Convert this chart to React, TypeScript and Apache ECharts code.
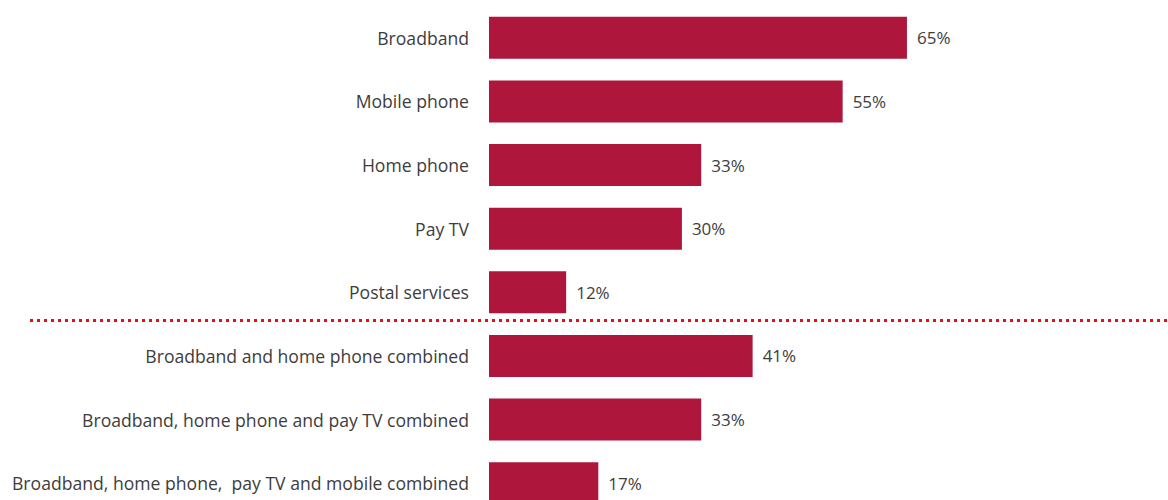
import React, { useEffect, useRef } from "react";
import * as echarts from "echarts";

const categories = [
  "Broadband",
  "Mobile phone",
  "Home phone",
  "Pay TV",
  "Postal services",
  "Broadband and home phone combined",
  "Broadband, home phone and pay TV combined",
  "Broadband, home phone,  pay TV and mobile combined",
];
const values = [65, 55, 33, 30, 12, 41, 33, 17];

export default function App() {
  const ref = useRef<HTMLDivElement>(null);
  useEffect(() => {
    if (!ref.current) return;
    const chart = echarts.init(ref.current, null, { renderer: "svg" });
    chart.setOption({
      animation: false,
      grid: { left: 489, right: 36, top: 6, bottom: 0, containLabel: false },
      xAxis: {
        type: "value",
        min: 0,
        max: 100,
        show: false,
      },
      yAxis: {
        type: "category",
        data: categories,
        inverse: true,
        axisLine: { show: false },
        axisTick: { show: false },
        axisLabel: {
          margin: 20,
          fontSize: 17.6,
          color: "#3d3d3d",
          fontFamily: "Open Sans",
        },
      },
      series: [
        {
          type: "bar",
          data: values,
          barWidth: 42,
          itemStyle: { color: "#AE173B" },
          label: {
            show: true,
            position: "right",
            distance: 10,
            formatter: "{c}%",
            fontSize: 17,
            color: "#3d3d3d",
            fontFamily: "Open Sans",
          },
        },
      ],
      graphic: [
        {
          type: "line",
          shape: { x1: 30, y1: 320.5, x2: 1168, y2: 320.5 },
          style: { stroke: "#E0101A", lineWidth: 3, lineDash: [3, 4] },
        },
      ],
    });
    return () => chart.dispose();
  }, []);
  return (
    <div
      ref={ref}
      style={{ width: 1168, height: 515, position: "absolute", left: 0, top: 0 }}
    />
  );
}
